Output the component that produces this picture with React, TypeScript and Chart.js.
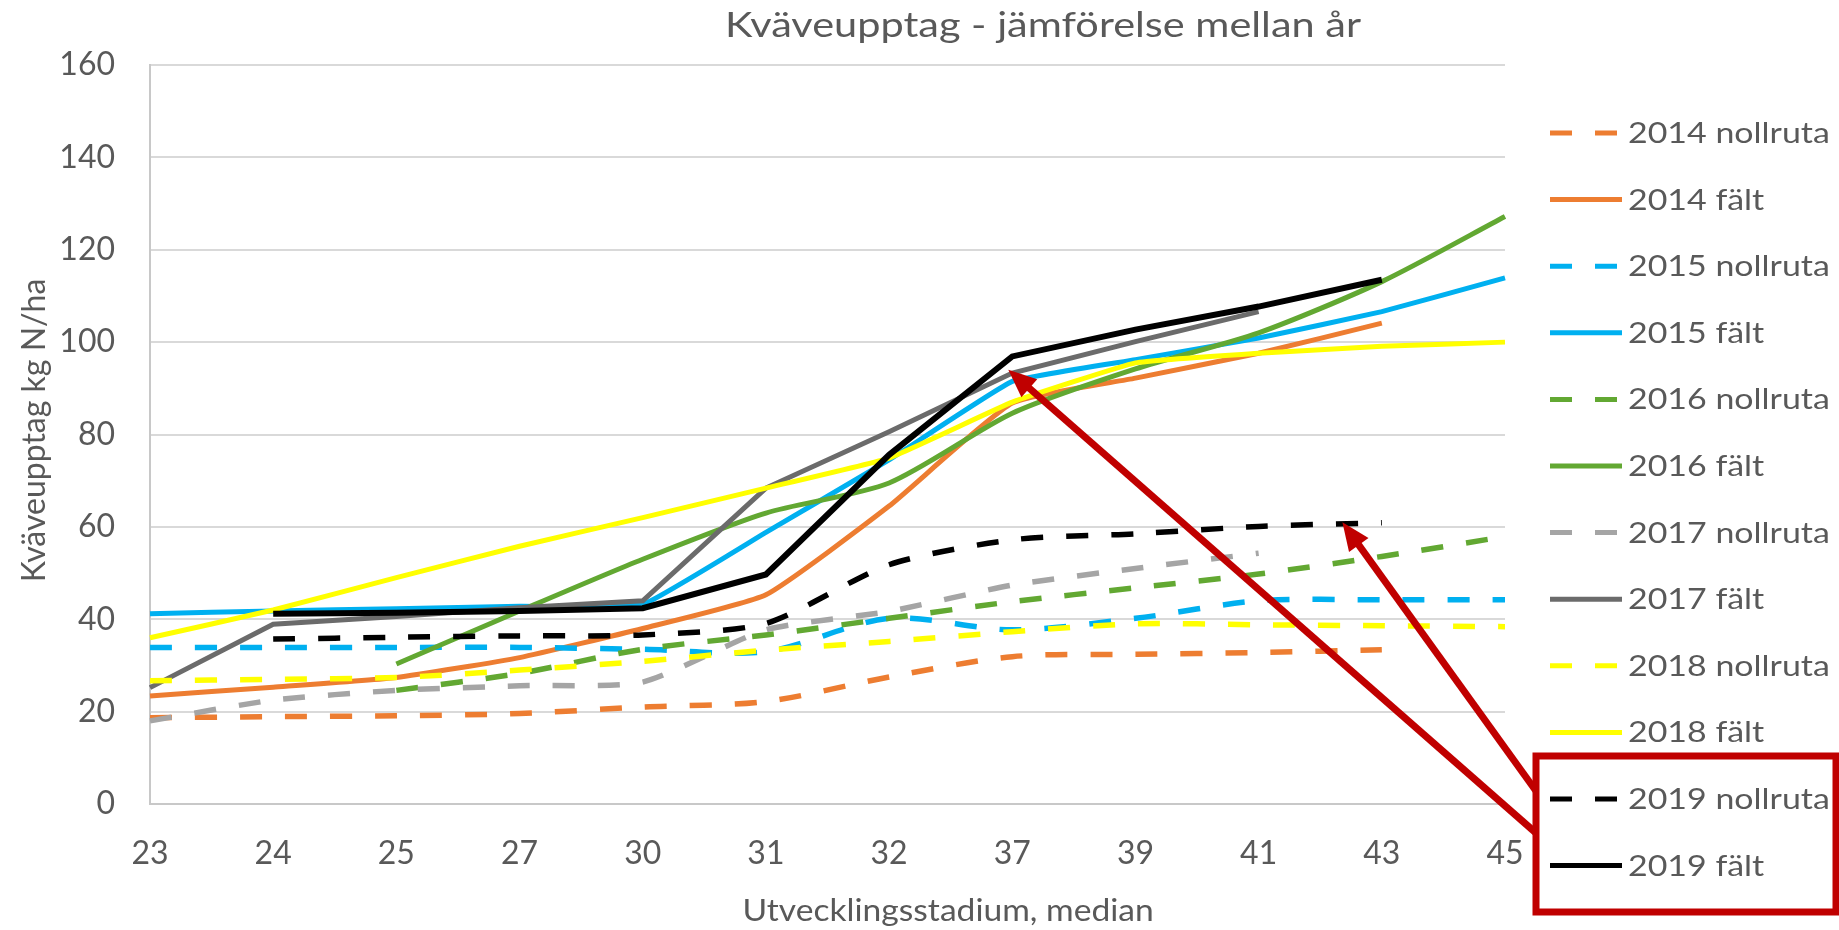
import { useEffect, useRef } from 'react';
import { Chart, registerables } from 'chart.js';

Chart.register(...registerables);

// ---- Data ----
const categories = ['23', '24', '25', '27', '30', '31', '32', '37', '39', '41', '43', '45'];

const nollruta2014 = [18.7, 18.9, 19.1, 19.6, 21.0, 22.2, 27.5, 31.9, 32.4, 32.8, 33.4, null];
const falt2014 = [23.4, 25.3, 27.4, 31.7, 38.0, 45.3, 64.5, 86.8, 92.2, 97.6, 104.1, null];
const nollruta2015 = [33.9, 33.9, 33.9, 33.9, 33.5, 33.0, 40.2, 37.7, 40.2, 44.0, 44.2, 44.2];
const falt2015 = [41.2, 41.8, 42.3, 42.8, 43.2, 58.8, 74.5, 91.5, 96.2, 100.9, 106.6, 113.9];
const nollruta2016 = [null, null, 24.6, 28.3, 33.5, 36.6, 40.2, 43.8, 46.8, 49.8, 53.6, 57.9];
const falt2016 = [null, null, 30.3, 41.8, 53.0, 63.0, 69.5, 84.6, 94.2, 102.0, 113.1, 127.2];
const nollruta2017 = [18.0, 22.5, 24.6, 25.6, 26.4, 37.7, 41.7, 47.4, 51.0, 54.3, null, null];
const falt2017 = [25.2, 38.9, 40.6, 42.5, 44.0, 68.4, 80.6, 93.3, 100.1, 106.6, null, null];
const nollruta2018 = [26.7, 27.0, 27.4, 29.0, 30.9, 33.3, 35.2, 37.3, 39.0, 38.8, 38.6, 38.4];
const falt2018 = [36.0, 42.0, 49.0, 55.8, 62.0, 68.4, 74.9, 87.0, 95.5, 97.6, 99.1, 100.0];
const nollruta2019 = [null, 35.7, 36.1, 36.4, 36.6, 39.1, 51.8, 57.2, 58.5, 60.1, 60.9, null];
const falt2019 = [null, 41.2, 41.4, 41.8, 42.4, 49.7, 75.6, 96.9, 102.7, 107.7, 113.5, null];

const seriesLabels = [
  '2014 nollruta', '2014 fält', '2015 nollruta', '2015 fält', '2016 nollruta', '2016 fält',
  '2017 nollruta', '2017 fält', '2018 nollruta', '2018 fält', '2019 nollruta', '2019 fält',
];
const seriesData = [
  nollruta2014, falt2014, nollruta2015, falt2015, nollruta2016, falt2016,
  nollruta2017, falt2017, nollruta2018, falt2018, nollruta2019, falt2019,
];

const yTicks = [0, 20, 40, 60, 80, 100, 120, 140, 160];

const titleText = 'Kväveupptag - jämförelse mellan år';
const yTitleText = 'Kväveupptag kg N/ha';
const xTitleText = 'Utvecklingsstadium, median';

// ---- Styles ----
const FONT = 'Lato, "Open Sans", "DejaVu Sans", sans-serif';
const TEXT = '#595959';
const RED = '#C00000';
const colors = [
  '#ED7D31', '#ED7D31', '#00B0F0', '#00B0F0', '#62A832', '#62A832',
  '#A5A5A5', '#6B6B6B', '#FFFF00', '#FFFF00', '#000000', '#000000',
];
const DASH = [22, 23];
const tensions = [0.3, 0.15, 0.3, 0.1, 0.3, 0.25, 0.2, 0, 0.3, 0.1, 0.25, 0];

function drawArrow(ctx: CanvasRenderingContext2D, x1: number, y1: number, x2: number, y2: number) {
  const ang = Math.atan2(y2 - y1, x2 - x1);
  const head = 28;
  const half = 12;
  const bx = x2 - Math.cos(ang) * head;
  const by = y2 - Math.sin(ang) * head;
  ctx.save();
  ctx.strokeStyle = RED;
  ctx.fillStyle = RED;
  ctx.lineWidth = 7;
  ctx.lineCap = 'butt';
  ctx.beginPath();
  ctx.moveTo(x1, y1);
  ctx.lineTo(bx + Math.cos(ang) * 2, by + Math.sin(ang) * 2);
  ctx.stroke();
  ctx.beginPath();
  ctx.moveTo(x2, y2);
  ctx.lineTo(bx + Math.sin(ang) * half, by - Math.cos(ang) * half);
  ctx.lineTo(bx - Math.sin(ang) * half, by + Math.cos(ang) * half);
  ctx.closePath();
  ctx.fill();
  ctx.restore();
}

function stretchedText(ctx: CanvasRenderingContext2D, text: string, x: number, y: number, size: number, sx: number, align: CanvasTextAlign) {
  ctx.save();
  ctx.translate(x, y);
  ctx.scale(sx, 1);
  ctx.font = `${size}px ${FONT}`;
  ctx.textAlign = align;
  ctx.textBaseline = 'alphabetic';
  ctx.fillStyle = TEXT;
  ctx.fillText(text, 0, 0);
  ctx.restore();
}

const decorPlugin = {
  id: 'decor',
  afterDraw(chart: any) {
    const { ctx, chartArea, scales } = chart;
    const w = chartArea.right - chartArea.left;
    ctx.save();
    // Title
    stretchedText(ctx, titleText, chartArea.left + w * 0.659, 37, 34, 1.22, 'center');
    // x title
    stretchedText(ctx, xTitleText, chartArea.left + w * 0.589, 921, 30, 1.12, 'center');
    // y title
    ctx.save();
    ctx.translate(45, (chartArea.top + chartArea.bottom) / 2 - 4);
    ctx.rotate(-Math.PI / 2);
    ctx.font = `32px ${FONT}`;
    ctx.textAlign = 'center';
    ctx.textBaseline = 'alphabetic';
    ctx.fillStyle = TEXT;
    ctx.fillText(yTitleText, 0, 0);
    ctx.restore();

    // Legend
    const lx0 = chartArea.right + 45;
    const lx1 = lx0 + 72;
    chart.data.datasets.forEach((ds: any, i: number) => {
      const cy = 133 + 66.6 * i;
      ctx.save();
      ctx.strokeStyle = ds.borderColor;
      ctx.lineWidth = 5;
      ctx.setLineDash(ds.borderDash || []);
      ctx.beginPath();
      ctx.moveTo(lx0, cy);
      ctx.lineTo(lx1, cy);
      ctx.stroke();
      ctx.restore();
      stretchedText(ctx, ds.label, lx1 + 6, cy + 10, 29, 1.17, 'left');
    });

    // Red box around 2019 entries
    ctx.strokeStyle = RED;
    ctx.lineWidth = 7;
    ctx.strokeRect(1536, 756, 1836 - 1536, 912 - 756);

    // Arrows
    const x = scales.x;
    const y = scales.y;
    const tipA = { x: x.getPixelForValue(7) - 4, y: y.getPixelForValue(94) };
    const tipB = { x: x.getPixelForValue(9) + (x.getPixelForValue(10) - x.getPixelForValue(9)) * 0.68, y: y.getPixelForValue(61) };
    drawArrow(ctx, 1536, 833, tipA.x, tipA.y);
    drawArrow(ctx, 1536, 791, tipB.x, tipB.y);
    ctx.restore();
  },
};

export default function App() {
  const ref = useRef<HTMLCanvasElement | null>(null);
  useEffect(() => {
    document.body.style.margin = '0';
    const canvas = ref.current;
    if (!canvas) return;
    const chart = new Chart(canvas, {
      type: 'line',
      data: {
        labels: categories,
        datasets: seriesData.map((data, i) => ({
          label: seriesLabels[i],
          data,
          borderColor: colors[i],
          backgroundColor: colors[i],
          borderWidth: i % 2 === 0 ? 5.5 : (i === 11 ? 6 : 5),
          borderDash: i % 2 === 0 ? DASH : [],
          borderCapStyle: 'butt',
          tension: tensions[i],
          pointRadius: 0,
          pointHoverRadius: 0,
          fill: false,
          order: seriesData.length - i,
        })),
      },
      options: {
        responsive: false,
        animation: false,
        events: [],
        layout: { padding: { left: 0, top: 65, right: 334, bottom: 0 } },
        plugins: {
          legend: { display: false },
          title: { display: false },
          tooltip: { enabled: false },
        },
        scales: {
          x: {
            type: 'category',
            offset: false,
            grid: { display: false, drawTicks: false },
            border: { display: true, color: '#C8C8C8', width: 2 },
            ticks: { autoSkip: false, maxRotation: 0, padding: 30, color: TEXT, font: { family: FONT, size: 32 } },
            afterFit: (s: any) => { s.height = 126; },
          },
          y: {
            type: 'linear',
            min: 0,
            max: 160,
            afterBuildTicks: (s: any) => { s.ticks = yTicks.map((v) => ({ value: v })); },
            grid: { color: '#D9D9D9', lineWidth: 2, drawTicks: false },
            border: { display: true, color: '#C8C8C8', width: 2 },
            ticks: { padding: 35, color: TEXT, font: { family: FONT, size: 32 } },
            afterFit: (s: any) => { s.width = 150; },
          },
        },
      },
      plugins: [decorPlugin],
    } as any);
    return () => chart.destroy();
  }, []);
  return (
    <div style={{ position: 'absolute', left: 0, top: 0, width: 1839, height: 930, background: '#ffffff' }}>
      <canvas ref={ref} width={1839} height={930} style={{ display: 'block' }} />
    </div>
  );
}
